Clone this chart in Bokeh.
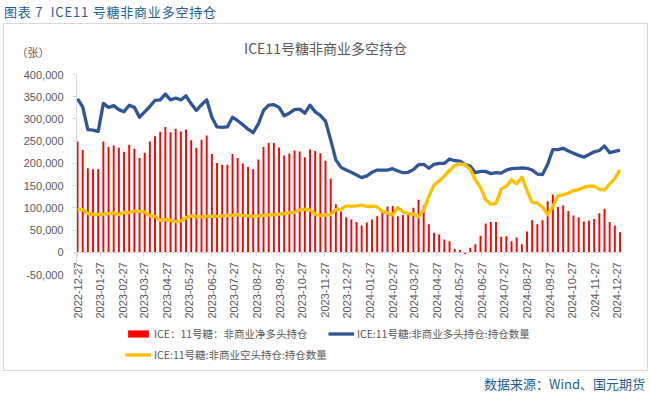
from math import pi
import pandas as pd
from bokeh.plotting import figure
from bokeh.layouts import column
from bokeh.models import (ColumnDataSource, Range1d, FixedTicker, DatetimeTickFormatter,
                          NumeralTickFormatter, Legend, LegendItem, Label, Div)
from bokeh.embed import file_html
from bokeh.resources import INLINE

# ---------------- data ----------------
start_date = "2022-12-27"
n_weeks = 106

tick_labels = ["2022-12-27", "2023-01-27", "2023-02-27", "2023-03-27", "2023-04-27",
               "2023-05-27", "2023-06-27", "2023-07-27", "2023-08-27", "2023-09-27",
               "2023-10-27", "2023-11-27", "2023-12-27", "2024-01-27", "2024-02-27",
               "2024-03-27", "2024-04-27", "2024-05-27", "2024-06-27", "2024-07-27",
               "2024-08-27", "2024-09-27", "2024-10-27", "2024-11-27", "2024-12-27"]

y_ticks = [-50000, 0, 50000, 100000, 150000, 200000, 250000, 300000, 350000, 400000]

# net long (thousand contracts)
net_k = [249, 230, 189, 187, 187, 249, 237, 240, 235, 226,
         242, 233, 212, 224, 249, 261, 271, 282, 270, 278,
         272, 276, 252, 235, 253, 263, 221, 201, 197, 197,
         221, 212, 200, 192, 187, 209, 237, 246, 246, 236,
         218, 222, 229, 227, 214, 232, 228, 223, 206, 166,
         108, 92, 79, 74, 68, 60, 67, 74, 81, 89,
         103, 104, 81, 84, 85, 100, 118, 105, 63, 44,
         40, 29, 25, 8, 5, -4, 10, 18, 37, 65,
         68, 68, 35, 36, 25, 33, 18, 47, 72, 63,
         72, 115, 130, 102, 105, 93, 83, 78, 69, 71,
         75, 88, 98, 68, 60, 45]

# non-commercial long positions (thousand contracts)
long_k = [345, 327, 276, 275, 272, 335, 326, 330, 321, 316,
          331, 326, 304, 316, 328, 342, 343, 356, 343, 347,
          343, 352, 334, 319, 332, 343, 304, 282, 281, 282,
          304, 296, 287, 277, 269, 289, 319, 331, 332, 326,
          307, 313, 321, 322, 313, 331, 316, 308, 295, 253,
          208, 191, 185, 180, 174, 168, 172, 180, 185, 185,
          185, 188, 183, 179, 180, 186, 197, 198, 189, 198,
          200, 200, 210, 206, 205, 197, 194, 179, 182, 182,
          177, 179, 178, 185, 188, 189, 190, 189, 185, 176,
          175, 198, 231, 231, 234, 228, 223, 218, 214, 220,
          226, 229, 239, 224, 227, 230]

# non-commercial short positions (thousand contracts)
short_k = [96, 96, 87, 85, 85, 86, 87, 88, 85, 90,
           89, 93, 92, 91, 82, 81, 72, 74, 72, 69,
           70, 78, 82, 81, 79, 81, 81, 81, 82, 83,
           83, 85, 83, 82, 81, 82, 83, 84, 84, 86,
           87, 89, 90, 95, 97, 95, 86, 83, 84, 85,
           96, 97, 104, 104, 104, 106, 103, 104, 102, 92,
           88, 84, 101, 91, 87, 86, 80, 95, 126, 151,
           160, 172, 184, 195, 199, 197, 187, 163, 146, 118,
           108, 110, 142, 149, 163, 154, 169, 139, 112, 111,
           102, 84, 103, 127, 129, 133, 139, 141, 146, 149,
           149, 142, 140, 154, 166, 185]

series_names = ["ICE：11号糖：非商业净多头持仓",
                "ICE:11号糖:非商业多头持仓:持仓数量",
                "ICE:11号糖:非商业空头持仓:持仓数量"]

header_text = "图表 7  ICE11 号糖非商业多空持仓"
chart_title = "ICE11号糖非商业多空持仓"
unit_text = "（张）"
source_text = "数据来源：Wind、国元期货"

# ---------------- build ----------------
DAY = 86400000
dates = pd.date_range(start_date, periods=n_weeks, freq="7D")
src = ColumnDataSource(dict(
    date=dates,
    net=[v * 1000 for v in net_k],
    long=[v * 1000 for v in long_k],
    short=[v * 1000 for v in short_k],
))

t0 = pd.Timestamp(start_date).value // 10**6
tick_ms = [pd.Timestamp(t).value // 10**6 for t in tick_labels]

# plotting area geometry (frame covers the whole bordered box; axes are fixed inside it)
x_lo, x_hi = t0 - 1.4 * DAY, t0 + 737 * DAY          # visible axis extent
x_start, x_end = t0 - 97.6 * DAY, t0 + 770.9 * DAY   # full frame extent
y_lo, y_hi = y_ticks[0], y_ticks[-1]
y_start, y_end = -263750, 510250

TICK_FONT = "Liberation Sans"
GRAY = "#595959"
AXIS = "#d9d9d9"
BLUE_TXT = "#1f5c99"
CJK = "Noto Sans CJK SC"

p = figure(width=643, height=346, output_backend="svg", toolbar_location=None,
           title=None, x_axis_type="datetime",
           x_range=Range1d(x_start, x_end), y_range=Range1d(y_start, y_end),
           min_border_left=1, min_border_right=1, min_border_top=1, min_border_bottom=1,
           margin=(0, 0, 0, 4))
p.styles = {"outline": "1px solid #d9d9d9"}
p.outline_line_color = None
p.xgrid.visible = False
p.ygrid.visible = False
p.background_fill_color = "white"
p.border_fill_color = "white"

fmt = "%Y-%m-%d"
xa = p.xaxis[0]
xa.fixed_location = 0
xa.bounds = (x_lo, x_hi)
xa.ticker = FixedTicker(ticks=tick_ms)
xa.formatter = DatetimeTickFormatter(microseconds=fmt, milliseconds=fmt, seconds=fmt, minsec=fmt,
                                     minutes=fmt, hourmin=fmt, hours=fmt, days=fmt,
                                     months=fmt, years=fmt)
xa.major_label_orientation = pi / 2
xa.axis_line_color = AXIS
xa.major_tick_line_color = AXIS
xa.major_tick_out = 4
xa.major_tick_in = 0
xa.minor_tick_line_color = None
xa.major_label_standoff = 6
xa.major_label_text_font = TICK_FONT
xa.major_label_text_font_size = "11px"
xa.major_label_text_color = GRAY

ya = p.yaxis[0]
ya.fixed_location = x_lo
ya.bounds = (y_lo, y_hi)
ya.ticker = FixedTicker(ticks=y_ticks)
ya.formatter = NumeralTickFormatter(format="0,0")
ya.axis_line_color = AXIS
ya.major_tick_line_color = AXIS
ya.major_tick_out = 4
ya.major_tick_in = 0
ya.minor_tick_line_color = None
ya.major_label_standoff = 9
ya.major_label_text_font = TICK_FONT
ya.major_label_text_font_size = "11px"
ya.major_label_text_color = GRAY

bars = p.vbar(x="date", top="net", bottom=0, width=2.6 * DAY, source=src,
              fill_color="#ff0000", line_color=None)
l_long = p.line("date", "long", source=src, line_color="#2f5597", line_width=3.3,
                line_join="round")
l_short = p.line("date", "short", source=src, line_color="#ffc000", line_width=3.3,
                 line_join="round")

legend = Legend(items=[LegendItem(label=series_names[0], renderers=[bars]),
                       LegendItem(label=series_names[1], renderers=[l_long]),
                       LegendItem(label=series_names[2], renderers=[l_short])],
                location=(120, 5), orientation="horizontal", ncols=2,
                glyph_width=26, glyph_height=9, label_standoff=3, label_height=20,
                spacing=1, padding=0, margin=0, border_line_color=None,
                background_fill_alpha=0, label_text_font=CJK,
                label_text_font_size="10.5px", label_text_color=GRAY)
p.add_layout(legend)

p.add_layout(Label(x=320, y=322, x_units="screen", y_units="screen", text=chart_title,
                   text_font=CJK, text_font_size="14px", text_color=GRAY,
                   text_align="center", text_baseline="middle"))
p.add_layout(Label(x=11, y=318, x_units="screen", y_units="screen", text=unit_text,
                   text_font=CJK, text_font_size="11px", text_color=GRAY,
                   text_align="left", text_baseline="middle"))

header = Div(text=header_text, width=640, height=24, margin=(0, 0, 0, 4),
             styles={"font-family": CJK, "font-size": "13px", "color": BLUE_TXT,
                     "line-height": "24px", "white-space": "pre", "letter-spacing": "0.8px"})
footer = Div(text=source_text, width=645, height=28, margin=(0, 0, 0, 0),
             styles={"font-family": CJK, "font-size": "13px", "color": BLUE_TXT,
                     "line-height": "28px", "text-align": "right", "white-space": "nowrap"})

layout = column(header, p, footer, spacing=0)
open("out.html", "w").write(file_html(layout, INLINE))
